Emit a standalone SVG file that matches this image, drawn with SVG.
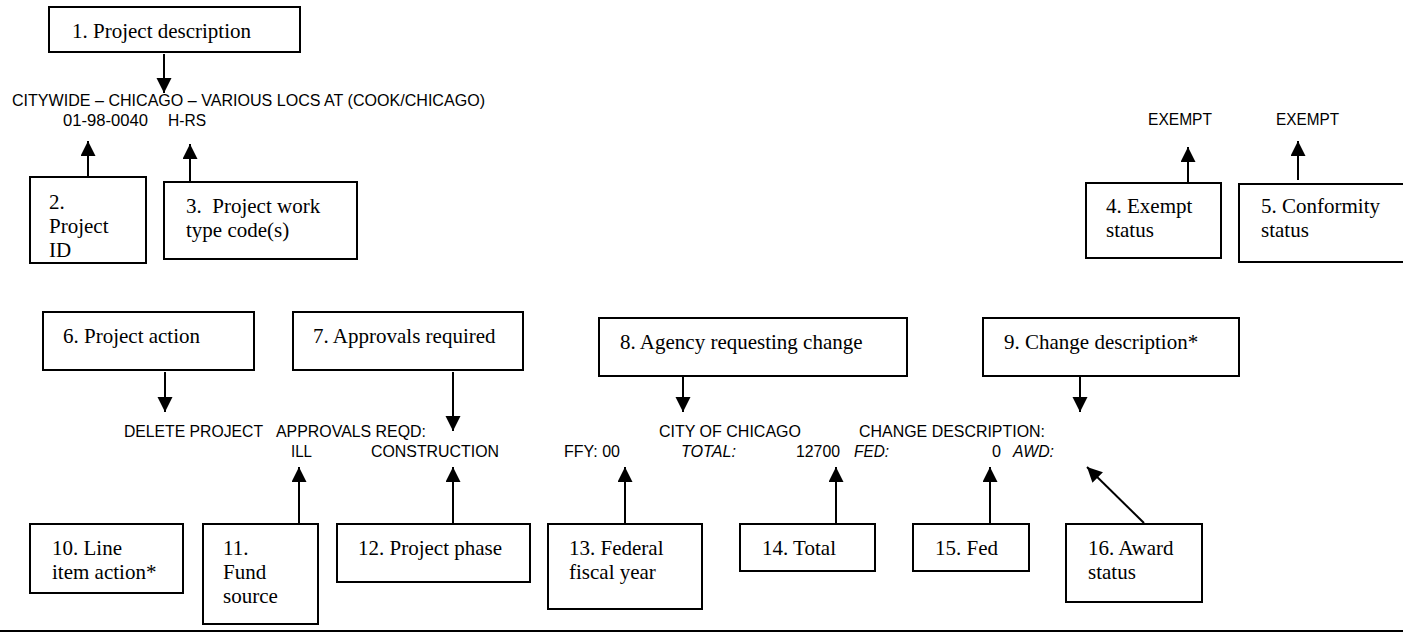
<svg xmlns="http://www.w3.org/2000/svg" width="1403" height="632" viewBox="0 0 1403 632">
<style>
.box{fill:#fff;stroke:#000;stroke-width:2}
.lbl{font-family:"Liberation Serif","Times New Roman",serif;font-size:21px;fill:#000}
.dat{font-family:"Liberation Sans",Arial,sans-serif;font-size:16px;fill:#000}
.it{font-style:italic}
.con line{stroke:#000;stroke-width:2;marker-end:url(#ah)}
</style>
<defs>
<marker id="ah" markerUnits="userSpaceOnUse" markerWidth="16" markerHeight="16" refX="15" refY="7.5" orient="auto">
<path d="M0,0 L15,7.5 L0,15 z" fill="#000"/>
</marker>
</defs>
<rect width="1403" height="632" fill="#fff"/>

<g id="data">
<text class="dat" x="12" y="106" textLength="473" lengthAdjust="spacingAndGlyphs">CITYWIDE – CHICAGO – VARIOUS LOCS AT (COOK/CHICAGO)</text>
<text class="dat" x="63" y="126" textLength="85" lengthAdjust="spacingAndGlyphs">01-98-0040</text>
<text class="dat" x="168" y="126" textLength="38" lengthAdjust="spacingAndGlyphs">H-RS</text>
<text class="dat" x="1148" y="125" textLength="64" lengthAdjust="spacingAndGlyphs">EXEMPT</text>
<text class="dat" x="1276" y="125" textLength="63" lengthAdjust="spacingAndGlyphs">EXEMPT</text>
<text class="dat" x="124" y="437" textLength="139" lengthAdjust="spacingAndGlyphs">DELETE PROJECT</text>
<text class="dat" x="276" y="437" textLength="150" lengthAdjust="spacingAndGlyphs">APPROVALS REQD:</text>
<text class="dat" x="291" y="457" textLength="21" lengthAdjust="spacingAndGlyphs">ILL</text>
<text class="dat" x="371" y="457" textLength="128" lengthAdjust="spacingAndGlyphs">CONSTRUCTION</text>
<text class="dat" x="659" y="437" textLength="142" lengthAdjust="spacingAndGlyphs">CITY OF CHICAGO</text>
<text class="dat" x="859" y="437" textLength="186" lengthAdjust="spacingAndGlyphs">CHANGE DESCRIPTION:</text>
<text class="dat" x="564" y="457" textLength="56" lengthAdjust="spacingAndGlyphs">FFY: 00</text>
<text class="dat it" x="681" y="457" textLength="55" lengthAdjust="spacingAndGlyphs">TOTAL:</text>
<text class="dat" x="796" y="457" textLength="44" lengthAdjust="spacingAndGlyphs">12700</text>
<text class="dat it" x="854" y="457" textLength="35" lengthAdjust="spacingAndGlyphs">FED:</text>
<text class="dat" x="992" y="457" textLength="9" lengthAdjust="spacingAndGlyphs">0</text>
<text class="dat it" x="1013" y="457" textLength="41" lengthAdjust="spacingAndGlyphs">AWD:</text>
</g>

<g id="n1"><rect class="box" x="49" y="7" width="251" height="45"/><text class="lbl" x="72" y="38">1. Project description</text></g>
<g id="n2"><rect class="box" x="30" y="177" width="116" height="86"/><text class="lbl" x="49" y="209">2.</text><text class="lbl" x="49" y="233">Project</text><text class="lbl" x="49" y="257">ID</text></g>
<g id="n3"><rect class="box" x="164" y="182" width="193" height="77"/><text class="lbl" x="186" y="213" xml:space="preserve">3.  Project work</text><text class="lbl" x="186" y="237">type code(s)</text></g>
<g id="n4"><rect class="box" x="1086" y="183" width="135" height="75"/><text class="lbl" x="1106" y="213">4. Exempt</text><text class="lbl" x="1106" y="237">status</text></g>
<g id="n5"><rect class="box" x="1239" y="184" width="170" height="78"/><text class="lbl" x="1261" y="213">5. Conformity</text><text class="lbl" x="1261" y="237">status</text></g>
<g id="n6"><rect class="box" x="43" y="312" width="211" height="58"/><text class="lbl" x="63" y="343">6. Project action</text></g>
<g id="n7"><rect class="box" x="293" y="312" width="230" height="58"/><text class="lbl" x="313" y="343">7. Approvals required</text></g>
<g id="n8"><rect class="box" x="599" y="318" width="308" height="58"/><text class="lbl" x="620" y="349">8. Agency requesting change</text></g>
<g id="n9"><rect class="box" x="983" y="318" width="256" height="58"/><text class="lbl" x="1004" y="349">9. Change description*</text></g>
<g id="n10"><rect class="box" x="30" y="524" width="153" height="69"/><text class="lbl" x="52" y="555">10. Line</text><text class="lbl" x="52" y="579">item action*</text></g>
<g id="n11"><rect class="box" x="203" y="524" width="115" height="100"/><text class="lbl" x="223" y="555">11.</text><text class="lbl" x="223" y="579">Fund</text><text class="lbl" x="223" y="603">source</text></g>
<g id="n12"><rect class="box" x="337" y="524" width="193" height="58"/><text class="lbl" x="358" y="555">12. Project phase</text></g>
<g id="n13"><rect class="box" x="548" y="524" width="154" height="85"/><text class="lbl" x="569" y="555">13. Federal</text><text class="lbl" x="569" y="579">fiscal year</text></g>
<g id="n14"><rect class="box" x="740" y="524" width="135" height="47"/><text class="lbl" x="762" y="555">14. Total</text></g>
<g id="n15"><rect class="box" x="913" y="524" width="116" height="47"/><text class="lbl" x="935" y="555">15. Fed</text></g>
<g id="n16"><rect class="box" x="1066" y="524" width="136" height="78"/><text class="lbl" x="1088" y="555">16. Award</text><text class="lbl" x="1088" y="579">status</text></g>

<g id="connectors" class="con">
<line x1="164" y1="54" x2="164" y2="93"/>
<line x1="88" y1="177" x2="88" y2="141"/>
<line x1="190" y1="182" x2="190" y2="144"/>
<line x1="1188" y1="183" x2="1188" y2="147"/>
<line x1="1298" y1="180" x2="1298" y2="141"/>
<line x1="165" y1="372" x2="165" y2="412"/>
<line x1="453" y1="372" x2="453" y2="431"/>
<line x1="683" y1="377" x2="683" y2="412"/>
<line x1="1080" y1="377" x2="1080" y2="412"/>
<line x1="299" y1="524" x2="299" y2="467"/>
<line x1="453" y1="524" x2="453" y2="467"/>
<line x1="625" y1="524" x2="625" y2="467"/>
<line x1="836" y1="524" x2="836" y2="467"/>
<line x1="990" y1="524" x2="990" y2="467"/>
<line x1="1144" y1="523" x2="1087" y2="467"/>
</g>
<line x1="0" y1="631" x2="1403" y2="631" stroke="#000" stroke-width="2"/>
</svg>
